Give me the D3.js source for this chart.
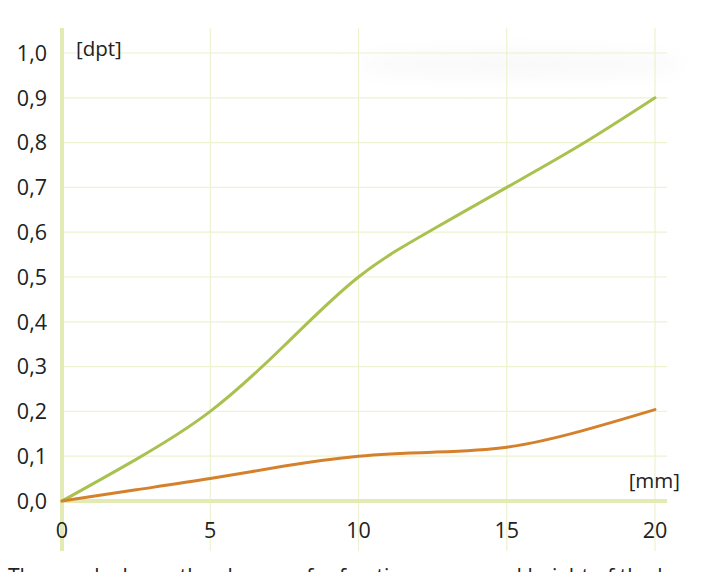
<!DOCTYPE html>
<html><head><meta charset="utf-8">
<script src="https://cdn.jsdelivr.net/npm/d3@7"></script>
<style>body{margin:0;background:#fff;} svg{display:block;}</style>
</head><body>
<svg id="c" width="704" height="572"></svg>
<script>
const xTicks = [0, 5, 10, 15, 20];
const yTicks = [0, 0.1, 0.2, 0.3, 0.4, 0.5, 0.6, 0.7, 0.8, 0.9, 1.0];
const xs = [0, 2.5, 5, 7.5, 10, 12.5, 15, 17.5, 20];
const greenVals = [0, 0.093, 0.2, 0.347, 0.5, 0.606, 0.7, 0.795, 0.9];
const orangeVals = [0, 0.025, 0.05, 0.078, 0.1, 0.109, 0.12, 0.156, 0.204];
const xUnit = "[mm]", yUnit = "[dpt]";
const caption = "The graph shows the change of refractive power and height of the lens";

const svg = d3.select("#c");
const x = d3.scaleLinear().domain([0, 20]).range([62, 655]);
const y = d3.scaleLinear().domain([0, 1]).range([501, 53]);
const gridCol = "#eef2cf", axisCol = "#e4eab4";
const font = "'Open Sans', sans-serif";
const textCol = "#222";

// faint shadow band at top right
const defs = svg.append("defs");
const f = defs.append("filter").attr("id","blur").attr("x","-20%").attr("y","-100%").attr("width","140%").attr("height","300%");
f.append("feGaussianBlur").attr("stdDeviation", 10);
svg.append("ellipse").attr("cx", 520).attr("cy", 64).attr("rx", 165).attr("ry", 12)
  .attr("fill", "#f8f8f8").attr("filter", "url(#blur)");

// horizontal grid
svg.append("g").selectAll("line").data(yTicks.filter(d => d > 0)).join("line")
  .attr("x1", 62).attr("x2", 667).attr("y1", d => y(d)).attr("y2", d => y(d))
  .attr("stroke", gridCol).attr("stroke-width", 1.2);
// vertical grid
svg.append("g").selectAll("line").data(xTicks.filter(d => d > 0)).join("line")
  .attr("x1", d => x(d)).attr("x2", d => x(d)).attr("y1", 28).attr("y2", 551)
  .attr("stroke", gridCol).attr("stroke-width", 1.2);

// axes
svg.append("line").attr("x1", 62).attr("x2", 667).attr("y1", y(0)).attr("y2", y(0))
  .attr("stroke", axisCol).attr("stroke-width", 4);
svg.append("line").attr("x1", x(0)).attr("x2", x(0)).attr("y1", 28).attr("y2", 551)
  .attr("stroke", axisCol).attr("stroke-width", 4);

// y tick labels
svg.append("g").selectAll("text").data(yTicks).join("text")
  .attr("x", 47).attr("y", d => y(d)).attr("dy", "0.36em")
  .attr("text-anchor", "end").attr("font-family", font).attr("font-size", 21.5)
  .attr("fill", textCol).text(d => d3.format(".1f")(d).replace(".", ","));
// x tick labels
svg.append("g").selectAll("text").data(xTicks).join("text")
  .attr("x", d => x(d)).attr("y", 538)
  .attr("text-anchor", "middle").attr("font-family", font).attr("font-size", 21.5)
  .attr("fill", textCol).text(d => d);

svg.append("text").attr("x", 76).attr("y", 56).attr("font-family", font).attr("font-size", 20.5)
  .attr("fill", textCol).text(yUnit);
svg.append("text").attr("x", 680).attr("y", 488).attr("text-anchor", "end").attr("font-family", font).attr("font-size", 20.5)
  .attr("fill", textCol).text(xUnit);

const line = d3.line().x((d, i) => x(xs[i])).y(d => y(d)).curve(d3.curveNatural);
svg.append("path").datum(greenVals).attr("d", line).attr("fill", "none")
  .attr("stroke", "#a9c14e").attr("stroke-width", 3).attr("stroke-linecap", "round");
svg.append("path").datum(orangeVals).attr("d", line).attr("fill", "none")
  .attr("stroke", "#d5812c").attr("stroke-width", 3).attr("stroke-linecap", "round");

svg.append("text").attr("x", 8).attr("y", 584).attr("font-family", font).attr("font-size", 21)
  .attr("fill", textCol).text(caption);
</script>
</body></html>
